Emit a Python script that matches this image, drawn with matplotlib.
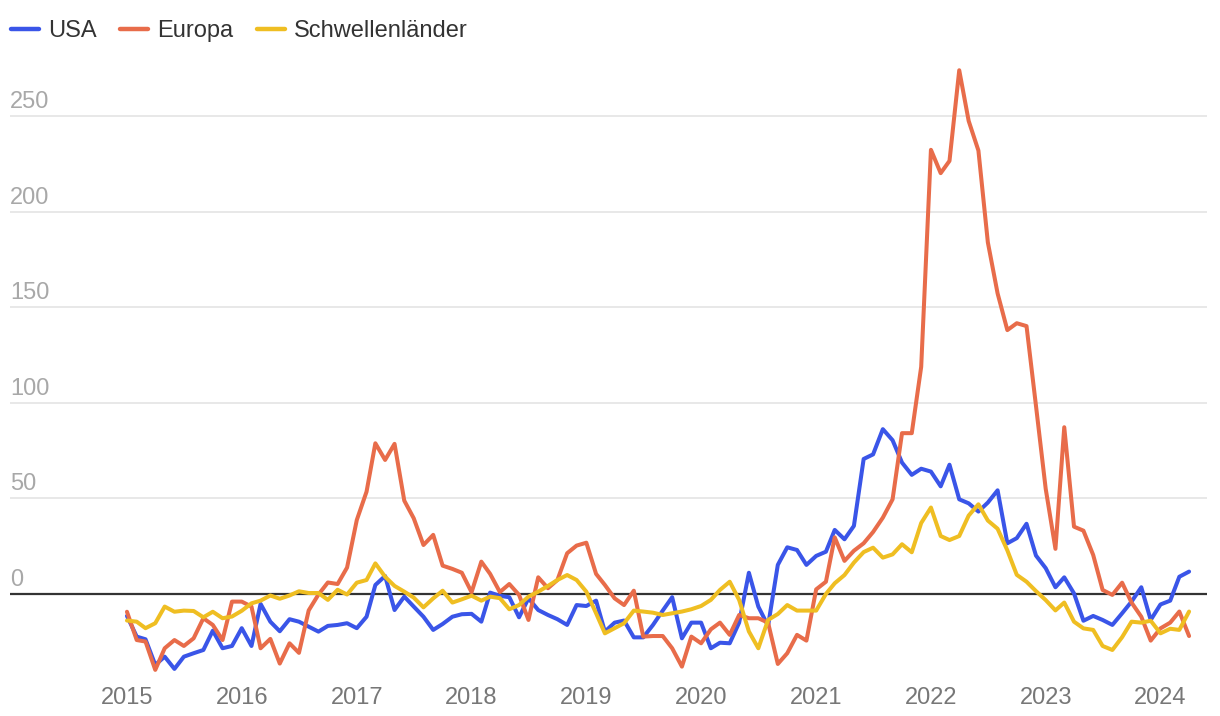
import matplotlib
matplotlib.use("Agg")
import matplotlib.pyplot as plt
import matplotlib.transforms as mtransforms
import pandas as pd

# monthly values, Jan 2015 .. Apr 2024
usa = [-11.5, -22.3, -23.7, -37.1, -32.8, -39.2, -32.8, -31.0, -29.3, -19.2, -28.4, -27.2,
       -17.9, -27.2, -5.2, -14.5, -19.5, -13.2, -14.5, -17.1, -19.7, -16.7, -16.2, -15.3,
       -17.9, -11.9, 4.7, 9.4, -8.4, -1.4, -6.6, -11.9, -18.8, -15.7, -11.9, -10.6,
       -10.4, -14.5, 0.7, -1.0, -1.7, -12.2, -2.3, -8.4, -11.0, -13.2, -16.2, -5.8,
       -6.3, -3.5, -19.7, -15.0, -13.9, -22.7, -22.7, -16.2, -8.7, -1.7, -23.2, -15.0,
       -15.0, -28.4, -25.5, -25.8, -15.0, 11.1, -6.6, -16.7, 15.2, 24.4, 23.0, 15.2,
       19.9, 22.1, 33.5, 28.6, 35.6, 70.6, 73.0, 86.2, 80.4, 68.7, 62.3, 65.5,
       64.0, 56.3, 67.6, 49.5, 47.4, 43.1, 47.8, 54.2, 26.5, 29.2, 36.7, 20.1,
       13.5, 3.5, 8.7, 0.3, -14.0, -11.5, -13.6, -16.2, -10.1, -4.0, 3.5, -13.6,
       -5.5, -3.5, 9.0, 11.7]

europa = [-9.3, -24.1, -24.9, -39.7, -28.4, -24.1, -27.2, -23.2, -12.7, -16.2, -24.1, -4.0,
          -4.0, -6.6, -28.4, -23.5, -36.4, -25.8, -30.8, -8.6, -0.3, 6.0, 5.2, 13.8,
          38.7, 53.5, 78.8, 70.1, 78.5, 48.8, 39.6, 25.6, 30.9, 14.8, 13.1, 11.1,
          0.9, 16.9, 10.5, 1.0, 5.2, -0.5, -13.6, 8.7, 3.0, 7.3, 21.3, 25.3,
          26.8, 10.5, 4.7, -2.3, -5.8, 1.7, -22.3, -22.0, -22.0, -28.4, -38.0, -22.3,
          -25.8, -18.5, -15.0, -21.4, -11.0, -12.7, -12.7, -15.0, -36.6, -31.0, -21.4, -24.4,
          2.4, 6.4, 29.6, 17.3, 22.6, 26.5, 32.4, 39.9, 49.5, 84.1, 84.1, 118.8,
          232.3, 220.1, 226.5, 273.9, 247.4, 231.9, 183.9, 157.2, 138.0, 141.6, 140.1, 98.5,
          55.0, 23.6, 87.2, 35.2, 33.1, 20.4, 2.1, -0.5, 5.9, -4.5, -11.9, -24.4,
          -18.0, -15.0, -9.2, -22.0]

schwellen = [-13.9, -14.5, -17.9, -15.3, -6.6, -9.3, -8.7, -8.9, -12.2, -9.3, -12.7, -11.8,
             -8.8, -4.9, -3.5, -0.8, -2.5, -0.8, 1.4, 0.5, 0.5, -3.1, 2.2, -0.3,
             5.9, 7.3, 16.0, 9.0, 4.2, 1.2, -1.9, -7.0, -2.3, 1.7, -4.5, -2.8,
             -0.9, -3.5, -1.4, -2.2, -8.0, -5.8, -1.4, 1.2, 4.2, 7.3, 9.9, 7.3,
             1.2, -10.1, -20.6, -17.9, -15.3, -8.7, -9.2, -9.8, -11.0, -10.1, -9.2, -8.0,
             -6.3, -3.1, 2.1, 6.4, -3.1, -19.6, -28.4, -13.6, -10.5, -5.8, -8.7, -8.7,
             -8.7, 0.0, 5.6, 9.9, 16.4, 21.9, 24.2, 19.0, 20.7, 26.0, 21.8, 37.1,
             45.2, 30.3, 28.2, 30.3, 41.0, 46.9, 38.4, 34.1, 22.8, 10.0, 6.4, 1.5,
             -3.2, -8.6, -4.5, -14.5, -18.0, -18.8, -27.2, -29.3, -22.6, -14.5, -15.0, -14.0,
             -20.6, -18.2, -18.8, -9.2]

dates = pd.date_range("2015-01-01", periods=len(usa), freq="MS")
series = [("USA", usa, "#3a55e8"), ("Europa", europa, "#e86c4a"),
          ("Schwellenländer", schwellen, "#efbe22")]
yticks = [0, 50, 100, 150, 200, 250]
years = list(range(2015, 2025))

plt.rcParams["font.family"] = ["Liberation Sans", "DejaVu Sans"]

fig = plt.figure(figsize=(12.2, 7.16), dpi=100)
W, H = 1220, 716
ax = fig.add_axes([10 / W, 1 - 680 / H, (1207 - 10) / W, (680 - 58.6) / H])

for v in yticks[1:]:
    ax.axhline(v, color="#e4e4e4", lw=1.2, zorder=1)
ax.axhline(0, color="#333333", lw=1.6, zorder=2)

for name, vals, col in series:
    ax.plot(dates, vals, color=col, lw=2.9, label=name, zorder=3,
            solid_joinstyle="round", solid_capstyle="round")

ax.set_ylim(-45, 280)
ax.set_xlim(pd.Timestamp("2013-12-25"), pd.Timestamp("2024-05-28"))

ax.set_yticks([])
trans = mtransforms.blended_transform_factory(ax.transAxes, ax.transData)
for v in yticks:
    ax.annotate(str(v), xy=(0, v), xycoords=trans, xytext=(0, 8),
                textcoords="offset pixels", ha="left", va="baseline",
                fontsize=17, color="#a8a8a8")

ax.set_xticks([pd.Timestamp(f"{y}-01-01") for y in years])
ax.set_xticklabels([str(y) for y in years], fontsize=17, color="#777777")
ax.tick_params(axis="x", length=0, pad=5)

for s in ax.spines.values():
    s.set_visible(False)

leg = ax.legend(loc="upper left", bbox_to_anchor=(11 / W, 1 - 20 / H),
                bbox_transform=fig.transFigure, ncol=3, frameon=False,
                fontsize=17, handlelength=1.19, handletextpad=0.38,
                columnspacing=1.0, borderpad=0, borderaxespad=0)
for t in leg.get_texts():
    t.set_color("#333333")
for h in leg.get_lines():
    h.set_linewidth(3.2)

fig.savefig("out.png", dpi=100)
